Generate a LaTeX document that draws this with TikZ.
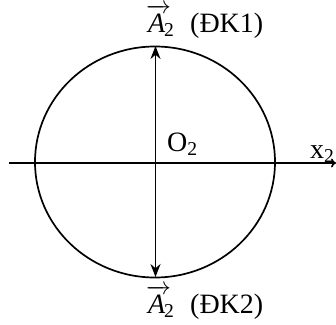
\documentclass[tikz,border=0pt]{standalone}
\usepackage{fontspec}
\setmainfont{Liberation Serif}
\usetikzlibrary{arrows.meta, positioning}

\newcommand{\vecA}{$\overrightarrow{\hbox{\kern1pt\textit{A}\rule{0pt}{20pt}\kern5pt}}$\kern-7pt\textsubscript{2}}

\begin{document}
\begin{tikzpicture}[x=1pt, y=-1pt,
        curve/.style={line width=1.7pt},
        vecline/.style={line width=1.7pt, {Stealth[length=13pt, width=10pt]}-{Stealth[length=13pt, width=10pt]}},
        axisline/.style={line width=1.7pt, -{To[length=5pt, width=9pt]}},
        lbl/.style={inner sep=0pt, font=\fontsize{28}{32}\selectfont}
    ]
        \useasboundingbox (0,0) rectangle (336,324);
        % circle and centre
        \coordinate (O2) at (155,162);
        \draw[curve] (O2) ellipse [x radius=120, y radius=115.5];
        \coordinate (top) at (155.5,46);
        \coordinate (bot) at (155.5,277);
        \coordinate (xl) at (9,163);
        \coordinate (xr) at (336,163);
        % axis and vectors
        \draw[axisline] (xl) -- (xr);
        \draw[vecline] (bot) -- (top);
        % labels
        \node[lbl, anchor=base west] (vectop) at (146,32) {\vecA};
        \node[lbl, anchor=base west] (dk1) at (190,32) {(ĐK1)};
        \node[lbl, anchor=base west] (vecbot) at (146,313) {\vecA};
        \node[lbl, anchor=base west] (dk2) at (190,313) {(ĐK2)};
        \node[lbl, anchor=base west] (olbl) at (167,151) {O\textsubscript{2}};
        \node[lbl, anchor=base west] (xlbl) at (310,158) {x\textsubscript{2}};
\end{tikzpicture}
\end{document}
